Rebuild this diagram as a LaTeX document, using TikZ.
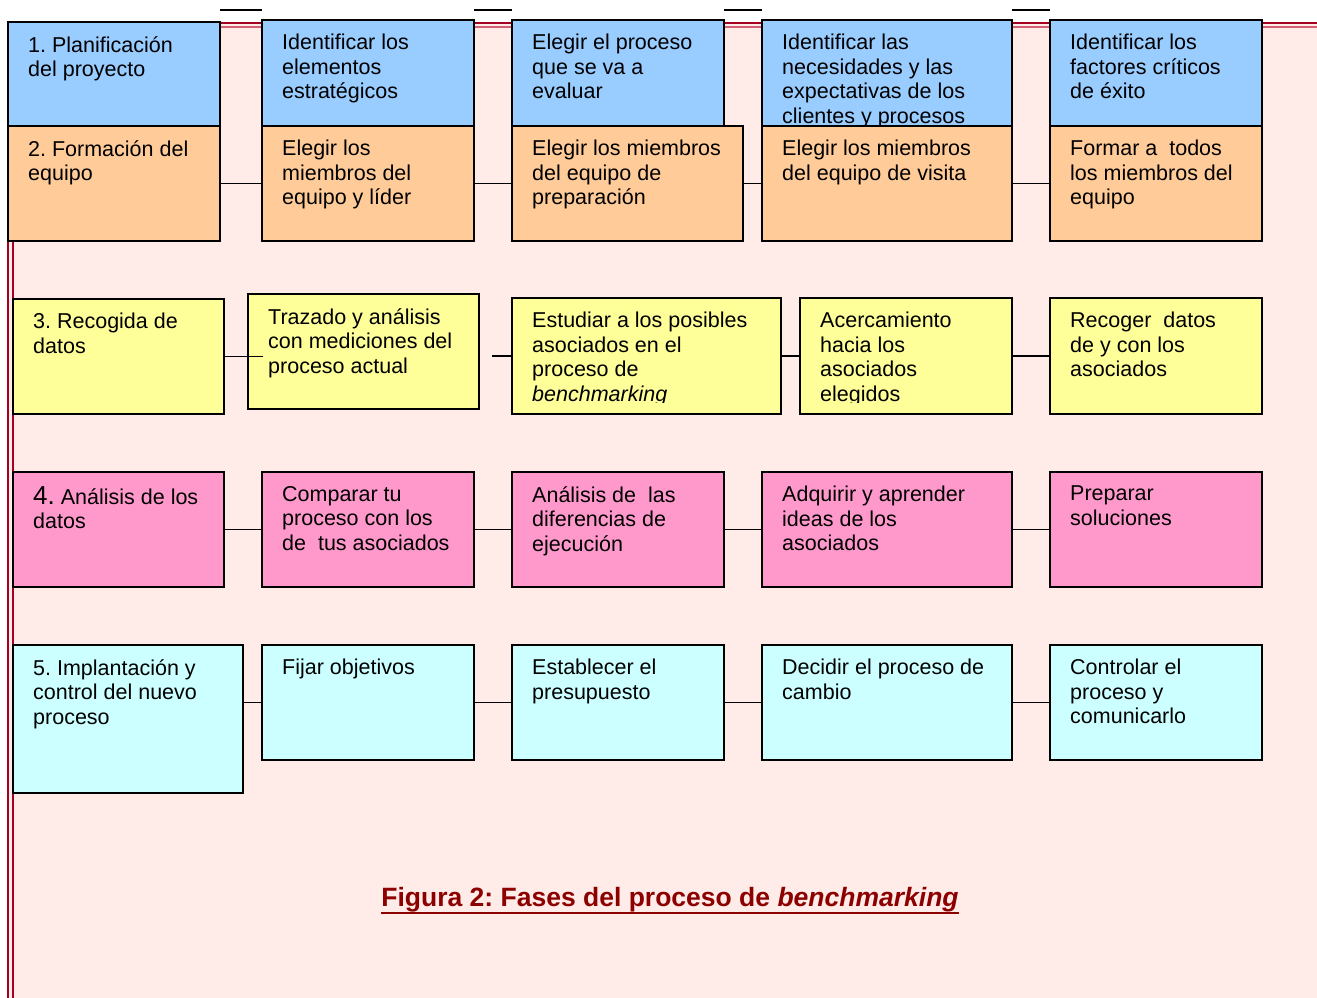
\documentclass[tikz,border=0pt]{standalone}
\usepackage{fontspec}
\setmainfont{Liberation Sans}
\frenchspacing
\usetikzlibrary{fit,calc}
\definecolor{planBlue}{RGB}{153,204,255}
\definecolor{teamOrange}{RGB}{255,204,153}
\definecolor{dataYellow}{RGB}{255,255,153}
\definecolor{anaPink}{RGB}{255,153,204}
\definecolor{implCyan}{RGB}{204,255,255}
\definecolor{pageRose}{RGB}{255,235,232}
\definecolor{frameRed}{RGB}{165,0,33}
\definecolor{frameLight}{RGB}{212,96,116}
\definecolor{capRed}{RGB}{140,0,0}
\tikzset{
  caja/.style={draw, line width=1.8pt, inner sep=0pt, outer sep=0pt},
  plan/.style={caja, fill=planBlue},
  team/.style={caja, fill=teamOrange},
  data/.style={caja, fill=dataYellow},
  ana/.style={caja, fill=anaPink},
  impl/.style={caja, fill=implCyan},
  txt/.style={anchor=north west, xshift=20pt, yshift=-14pt, inner sep=0pt, align=left, font=\fontsize{21.5}{24.5}\selectfont},
  conn/.style={line width=1.5pt},
  marco/.style={frameRed, line width=2pt}
}

\begin{document}
\begin{tikzpicture}[x=1pt,y=-1pt]
  \useasboundingbox (0,0) rectangle (1317,998);
  % page and frame
  \fill[pageRose] (8,22) rectangle (1317,998);
  \coordinate (fTL) at (8,22);
  \coordinate (fTR) at (1317,22);
  \coordinate (fBL) at (8,998);
  \draw[marco] (fTL) -- (fBL);
  \draw[marco, line width=1.6pt] ([xshift=5pt]fTL) -- ([xshift=5pt]fBL);
  \draw[marco, line width=2.2pt] ([yshift=-1pt]fTL) -- ([yshift=-1pt]fTR);
  \draw[frameLight, line width=1.5pt] ([yshift=-5pt]fTL) -- ([yshift=-5pt]fTR);

  % 1. planificacion
  \node[plan, fit={(8,22) (220,126)}] (p1) {};
  \node[txt] (p1t) at (p1.north west) {1. Planificación\\del proyecto};
  \node[plan, fit={(262,20) (474,126)}] (p2) {};
  \node[txt] (p2t) at (p2.north west) {Identificar los\\elementos\\estratégicos};
  \node[plan, fit={(512,20) (724,126)}] (p3) {};
  \node[txt] (p3t) at (p3.north west) {Elegir el proceso\\que se va a\\evaluar};
  \node[plan, fit={(762,20) (1012,126)}] (p4) {};
  \node[txt] (p4t) at (p4.north west) {Identificar las\\necesidades y las\\expectativas de los\\clientes y procesos};
  \node[plan, fit={(1050,20) (1262,126)}] (p5) {};
  \node[txt] (p5t) at (p5.north west) {Identificar los\\factores críticos\\de éxito};

  % 2. formacion del equipo
  \node[team, fit={(8,126) (220,241)}] (f1) {};
  \node[txt] (f1t) at (f1.north west) {2. Formación del\\equipo};
  \node[team, fit={(262,126) (474,241)}] (f2) {};
  \node[txt] (f2t) at (f2.north west) {Elegir los\\miembros del\\equipo y líder};
  \node[team, fit={(512,126) (743,241)}] (f3) {};
  \node[txt] (f3t) at (f3.north west) {Elegir los miembros\\del equipo de\\preparación};
  \node[team, fit={(762,126) (1012,241)}] (f4) {};
  \node[txt] (f4t) at (f4.north west) {Elegir los miembros\\del equipo de visita};
  \node[team, fit={(1050,126) (1262,241)}] (f5) {};
  \node[txt] (f5t) at (f5.north west) {Formar a\ \ todos\\los miembros del\\equipo};

  % 3. recogida de datos
  \node[data, fit={(13,299) (224,414)}] (r1) {};
  \node[txt] (r1t) at (r1.north west) {3. Recogida de\\datos};
  \node[data, fit={(248,294) (479,409)}] (r2) {};
  \node[txt] (r2t) at (r2.north west) {Trazado y análisis\\con mediciones del\\proceso actual};
  \node[data, fit={(512,298) (781,414)}] (r3) {};
  \begin{scope}
    \clip (r3.north west) rectangle ([yshift=12pt]r3.south east);
    \node[txt] (r3t) at (r3.north west) {Estudiar a los posibles\\asociados en el\\proceso de\\\textit{benchmarking}};
  \end{scope}
  \node[data, fit={(800,298) (1012,414)}] (r4) {};
  \begin{scope}
    \clip (r4.north west) rectangle ([yshift=12pt]r4.south east);
    \node[txt] (r4t) at (r4.north west) {Acercamiento\\hacia los\\asociados\\elegidos};
  \end{scope}
  \node[data, fit={(1050,298) (1262,414)}] (r5) {};
  \node[txt] (r5t) at (r5.north west) {Recoger\ \ datos\\de y con los\\asociados};

  % 4. analisis de los datos
  \node[ana, fit={(13,472) (224,587)}] (a1) {};
  \node[txt] (a1t) at (a1.north west) {{\fontsize{26}{24.5}\selectfont 4.} Análisis de los\\datos};
  \node[ana, fit={(262,472) (474,587)}] (a2) {};
  \node[txt] (a2t) at (a2.north west) {Comparar tu\\proceso con los\\de\ \ tus asociados};
  \node[ana, fit={(512,472) (724,587)}] (a3) {};
  \node[txt] (a3t) at (a3.north west) {Análisis de\ \ las\\diferencias de\\ejecución};
  \node[ana, fit={(762,472) (1012,587)}] (a4) {};
  \node[txt] (a4t) at (a4.north west) {Adquirir y aprender\\ideas de los\\asociados};
  \node[ana, fit={(1050,472) (1262,587)}] (a5) {};
  \node[txt] (a5t) at (a5.north west) {Preparar\\soluciones};

  % 5. implantacion
  \node[impl, fit={(13,645) (243,793)}] (i1) {};
  \node[txt] (i1t) at (i1.north west) {5. Implantación y\\control del nuevo\\proceso};
  \node[impl, fit={(262,645) (474,760)}] (i2) {};
  \node[txt] (i2t) at (i2.north west) {Fijar objetivos};
  \node[impl, fit={(512,645) (724,760)}] (i3) {};
  \node[txt] (i3t) at (i3.north west) {Establecer el\\presupuesto};
  \node[impl, fit={(762,645) (1012,760)}] (i4) {};
  \node[txt] (i4t) at (i4.north west) {Decidir el proceso de\\cambio};
  \node[impl, fit={(1050,645) (1262,760)}] (i5) {};
  \node[txt] (i5t) at (i5.north west) {Controlar el\\proceso y\\comunicarlo};

  % connectors
  \coordinate (tope) at (0,10);
  \draw[conn] (p1.east |- tope) -- (p2.west |- tope);
  \draw[conn] (p2.east |- tope) -- (p3.west |- tope);
  \draw[conn] (p3.east |- tope) -- (p4.west |- tope);
  \draw[conn] (p4.east |- tope) -- (p5.west |- tope);
  \draw[conn] (f1) -- (f2);
  \draw[conn] (f2) -- (f3);
  \draw[conn] (f3) -- (f4);
  \draw[conn] (f4) -- (f5);
  \draw[conn] (r1.east) -- ++(39,0);
  \draw[conn] (r3.west) -- ++(-20,0);
  \draw[conn] (r3) -- (r4);
  \draw[conn] (r4) -- (r5);
  \draw[conn] (a1) -- (a2);
  \draw[conn] (a2) -- (a3);
  \draw[conn] (a3) -- (a4);
  \draw[conn] (a4) -- (a5);
  \draw[conn] (i2.west) -- (i2.west -| i1.east);
  \draw[conn] (i2) -- (i3);
  \draw[conn] (i3) -- (i4);
  \draw[conn] (i4) -- (i5);

  % caption
  \node[font=\fontsize{26.5}{30}\selectfont\bfseries, text=capRed, inner sep=0pt, anchor=base] (cap) at (670,906) {Figura 2: Fases del proceso de \textit{benchmarking}};
  \draw[capRed, line width=2.2pt] ([yshift=-7pt]cap.base west) -- ([yshift=-7pt]cap.base east);
\end{tikzpicture}
\end{document}
